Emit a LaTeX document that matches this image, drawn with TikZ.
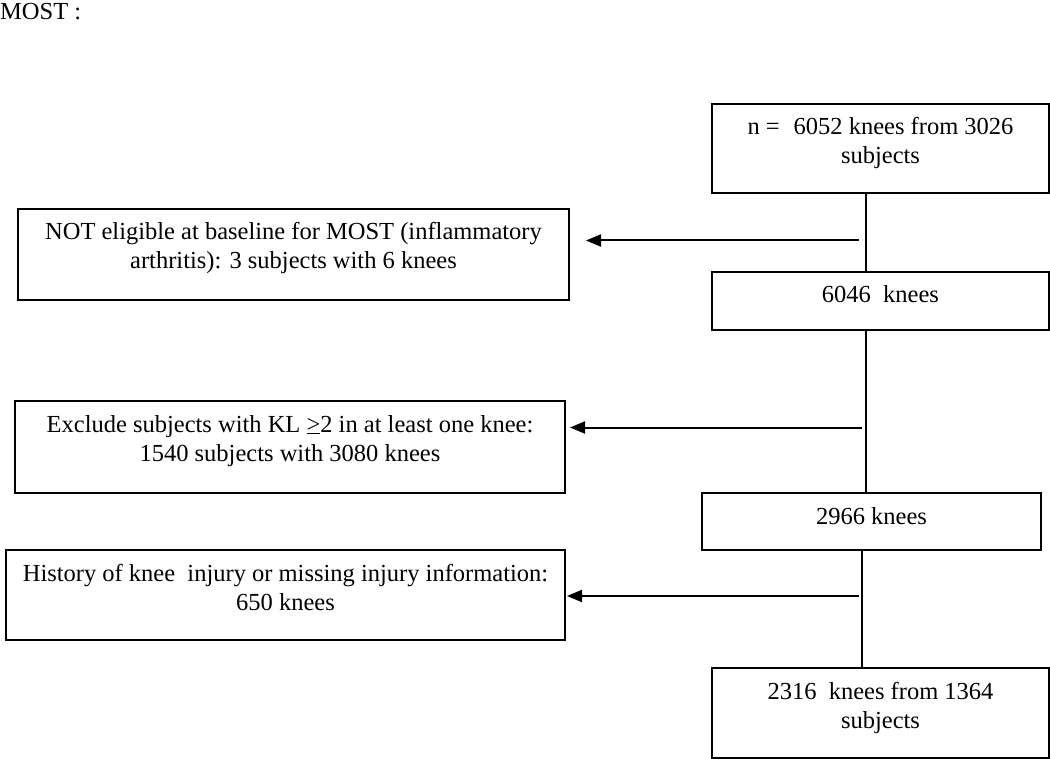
\documentclass[tikz,border=0pt]{standalone}
\usepackage{fontspec}
\setmainfont{Liberation Serif}
\usetikzlibrary{arrows.meta}
\newcommand\flowbox[3]{\parbox[t][#2][t]{#1}{\centering\rule{0pt}{31pt}#3\par}}
\tikzset{
  fbox/.style={draw, line width=2pt, inner sep=0pt, anchor=north west,
    font=\fontsize{24.5pt}{29pt}\selectfont},
  conn/.style={line width=2pt},
  exarrow/.style={line width=2pt, -{Triangle[length=15pt,width=12pt]}},
}
\begin{document}
\begin{tikzpicture}[x=1pt,y=-1pt]
\useasboundingbox (0,0) rectangle (1050,759);
\node[anchor=base west, inner sep=0pt, font=\fontsize{24.5pt}{29pt}\selectfont] (title) at (0,20) {MOST :};

\node[fbox] (b1) at (711,103) {\flowbox{337pt}{89pt}{n =\hspace{14pt}6052 knees from 3026\\subjects}};
\node[fbox] (e1) at (17,208) {\flowbox{551pt}{91pt}{NOT eligible at baseline for MOST (inflammatory\\arthritis): 3 subjects with 6 knees}};
\node[fbox] (b2) at (711,271) {\flowbox{337pt}{58pt}{6046\ \ knees}};
\node[fbox] (e2) at (14,400) {\flowbox{550pt}{92pt}{Exclude subjects with KL \underline{>}2 in at least one knee:\\1540 subjects with 3080 knees}};
\node[fbox] (b3) at (701,492) {\flowbox{339pt}{57pt}{2966 knees}};
\node[fbox] (e3) at (5,549) {\flowbox{559pt}{90pt}{History of knee\ \ injury or missing injury information:\\650 knees}};
\node[fbox] (b4) at (711,667) {\flowbox{337pt}{90pt}{2316\ \ knees from 1364\\subjects}};

\coordinate (v1) at (866,0);
\coordinate (v2) at (862,0);
\coordinate (a1) at (859,240.5);
\coordinate (a2) at (862,427.5);
\coordinate (a3) at (859,596);

\draw[conn] (b1.south -| v1) -- (b2.north -| v1);
\draw[conn] (b2.south -| v1) -- (b3.north -| v1);
\draw[conn] (b3.south -| v2) -- (b4.north -| v2);

\draw[exarrow, shorten >=16pt] (a1) -- (a1 -| e1.east);
\draw[exarrow, shorten >=4pt] (a2) -- (a2 -| e2.east);
\draw[exarrow, shorten >=1pt] (a3) -- (a3 -| e3.east);
\end{tikzpicture}
\end{document}
